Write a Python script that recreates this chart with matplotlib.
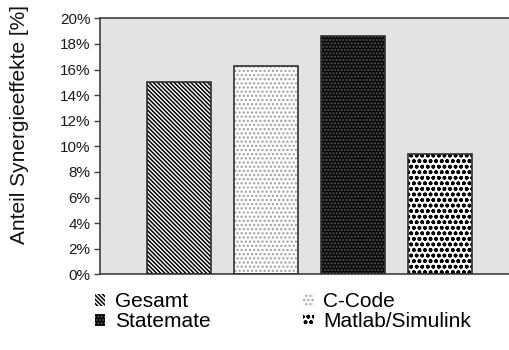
import matplotlib.pyplot as plt
from matplotlib.patches import Patch

# Share of synergy effects per model type
labels = ['Gesamt', 'C-Code', 'Statemate', 'Matlab/Simulink']
values = [15.0, 16.3, 18.6, 9.4]
yticks = [0, 2, 4, 6, 8, 10, 12, 14, 16, 18, 20]

# fill style per bar: face colour, hatch, hatch colour
faces = ['white', 'white', '#050505', 'white']
hatches = ['\\\\\\\\\\\\\\\\', '....', '.....', 'ooo']
hatch_cols = ['#000000', '#a0a0a0', '#555555', '#000000']

plt.rcParams['font.family'] = ['Liberation Sans', 'DejaVu Sans']
plt.rcParams['hatch.linewidth'] = 1.1

fig = plt.figure(figsize=(5.09, 3.5), dpi=100)
ax = fig.add_axes([100 / 509, 75.7 / 350, 419 / 509, 256 / 350])
ax.set_facecolor('#e3e3e3')

x = list(range(len(values)))
width = 0.736
for i in x:
    ax.bar(i, values[i], width, color=faces[i], hatch=hatches[i],
           edgecolor=hatch_cols[i], linewidth=0, zorder=2)
# bar outlines on top of the hatching
ax.bar(x, values, width, fill=False, edgecolor='#303030', linewidth=1.2, zorder=3)

ax.set_xlim(-0.908, 3.908)
ax.set_ylim(0, 20)
ax.set_xticks([])
ax.set_yticks(yticks)
ax.set_yticklabels([f'{t}%' for t in yticks], fontsize=11, color='#1a1a1a')
ax.tick_params(axis='y', direction='out', length=4, width=1, color='#404040', pad=3)
for s in ax.spines.values():
    s.set_color('#404040')
    s.set_linewidth(1.2)

fig.text(20 / 509, 1 - 124 / 350, 'Anteil Synergieeffekte [%]', rotation=90,
         ha='center', va='center', fontsize=15, color='#111111')

# legend laid out column-wise: Gesamt/Statemate, then C-Code/Matlab
handles = [Patch(facecolor=faces[i], hatch=hatches[i], edgecolor=hatch_cols[i],
                 linewidth=0) for i in x]
order = [0, 2, 1, 3]
leg = fig.legend([handles[i] for i in order], [labels[i] for i in order],
                 ncol=2, loc='upper left', bbox_to_anchor=(95 / 509, 1 - 292 / 350),
                 frameon=False, fontsize=15, handlelength=0.5, handleheight=0.5,
                 handletextpad=0.45, columnspacing=4.45, labelspacing=0.05,
                 borderpad=0, borderaxespad=0)

fig.savefig('out.png', dpi=100)
